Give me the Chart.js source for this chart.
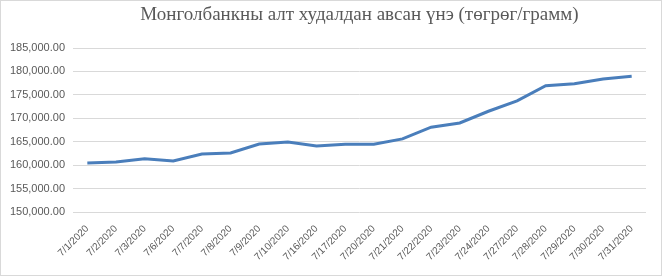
<!DOCTYPE html>
<html>
<head>
<meta charset="utf-8">
<script src="https://cdn.jsdelivr.net/npm/chart.js@4"></script>
<style>
  body { margin: 0; background: #fff; }
  #wrap { width: 662px; height: 276px; box-sizing: border-box; border: 1px solid #d9d9d9; }
</style>
</head>
<body>
<div id="wrap"><canvas id="gold-chart" width="660" height="274"></canvas></div>
<script>
var chartTitle = "Монголбанкны алт худалдан авсан үнэ (төгрөг/грамм)";
var dates = ["7/1/2020", "7/2/2020", "7/3/2020", "7/6/2020", "7/7/2020", "7/8/2020", "7/9/2020", "7/10/2020",
  "7/16/2020", "7/17/2020", "7/20/2020", "7/21/2020", "7/22/2020", "7/23/2020", "7/24/2020", "7/27/2020",
  "7/28/2020", "7/29/2020", "7/30/2020", "7/31/2020"];
var prices = [160460, 160680, 161350, 160880, 162380, 162600, 164500, 164930,
  164080, 164450, 164450, 165600, 168100, 169000, 171500, 173700,
  176950, 177350, 178400, 178950];
var yMin = 150000;
var yMax = 185000;
var yStep = 5000;

// title centred over the plot area, like Excel does
var titlePlugin = {
  id: "plotTitle",
  afterDraw: function(chart) {
    var c = chart.ctx, a = chart.chartArea;
    c.save();
    c.font = "19px 'Liberation Serif'";
    c.fillStyle = "#595959";
    c.textAlign = "center";
    c.textBaseline = "middle";
    c.fillText(chartTitle, (a.left + a.right) / 2, 14);
    c.restore();
  }
};

document.addEventListener("DOMContentLoaded", function() {
  var ctx = document.getElementById("gold-chart").getContext("2d");
  new Chart(ctx, {
    type: "line",
    data: {
      labels: dates,
      datasets: [{
        label: "Үнэ",
        data: prices,
        borderColor: "#4a7ebb",
        borderWidth: 3,
        pointRadius: 0,
        tension: 0,
        fill: false
      }]
    },
    plugins: [titlePlugin],
    options: {
      responsive: false,
      animation: false,
      layout: { padding: { left: 0, right: 15, top: 47, bottom: 0 } },
      scales: {
        y: {
          min: yMin,
          max: yMax,
          ticks: {
            stepSize: yStep,
            color: "#595959",
            font: { family: "Liberation Sans", size: 11 },
            padding: 8,
            callback: function(v) {
              return v.toLocaleString("en-US", { minimumFractionDigits: 2, maximumFractionDigits: 2 });
            }
          },
          grid: { color: "#d9d9d9", drawTicks: false },
          border: { display: false },
          afterFit: function(scale) { scale.width = 72; }
        },
        x: {
          offset: true,
          ticks: {
            color: "#595959",
            font: { family: "Liberation Sans", size: 10 },
            minRotation: 45,
            maxRotation: 45,
            autoSkip: false,
            padding: 3
          },
          grid: { display: false },
          border: { display: false },
          afterFit: function(scale) { scale.height = 63; }
        }
      },
      plugins: {
        legend: { display: false },
        tooltip: { enabled: false },
        title: { display: false }
      }
    }
  });
});
</script>
</body>
</html>
